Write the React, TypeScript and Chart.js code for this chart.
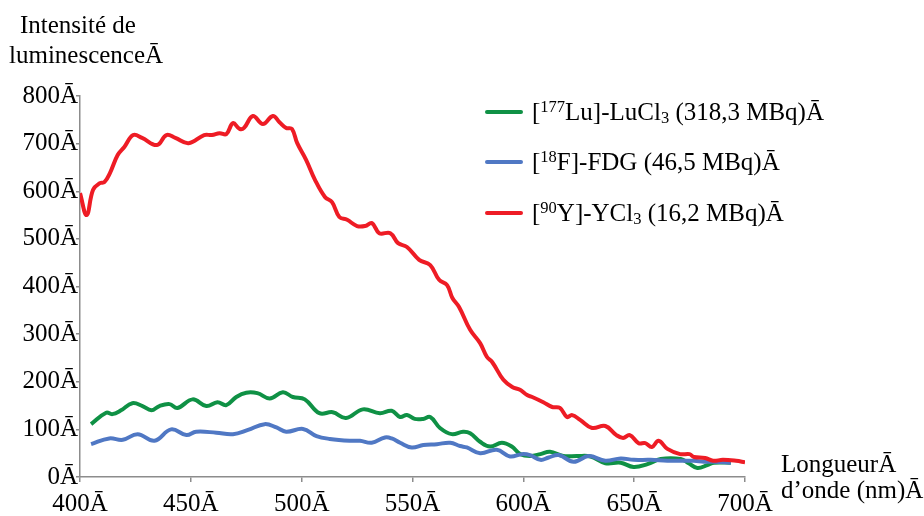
import React, { useEffect, useRef } from 'react';
import { Chart, registerables } from 'chart.js';

Chart.register(...registerables);

// ---- Data ----
const luWavelengths = [405, 411.8, 414.6, 418.5, 423.6, 428.2, 432.2, 435.8, 440.4, 444, 450.8, 457, 462, 466, 470.5, 475, 480, 485.6, 491.5, 496, 501.4, 508, 514, 520, 527.6, 535.3, 540.6, 544.4, 547.5, 551, 554.8, 558, 562.4, 567.7, 572.8, 576, 580.5, 585, 590.3, 594.8, 598.6, 603, 607.7, 612, 618, 624.4, 630.3, 637, 643.9, 649.7, 656, 662, 671, 674.6, 678.5, 683, 686, 693.6];
const luIntensity = [111, 135, 132, 140, 155, 149, 140, 149, 153, 145, 163, 149, 157, 151, 168, 177, 176, 165, 178, 168, 163, 134, 136, 124, 142, 134, 139, 126, 130, 122, 122, 126, 103, 90, 95, 92, 74, 64, 72, 64, 48, 44, 48, 53, 44, 44, 43, 29, 30, 21, 27, 38, 38, 29, 19, 25, 30, 30];

const fdgWavelengths = [405, 413.2, 419.3, 426, 433.6, 441.1, 448, 452.4, 461.5, 469, 475.8, 483.3, 488.6, 493, 500.6, 506.7, 512.7, 521.7, 526.3, 531.6, 537.6, 540.6, 544.4, 549.6, 554.9, 561, 567, 571.5, 574.5, 580.5, 588, 594, 599.4, 603, 607.7, 611.4, 616, 622.7, 629.5, 637, 643.9, 649.8, 657.4, 665, 671, 677, 681.5, 686, 693.6];
const fdgIntensity = [69, 81, 78, 90, 76, 100, 88, 95, 93, 90, 99, 111, 104, 95, 101, 86, 80, 76, 76, 72, 83, 81, 72, 62, 67, 69, 72, 65, 62, 50, 57, 43, 48, 46, 36, 41, 46, 32, 44, 34, 39, 36, 36, 34, 34, 34, 32, 32, 30];

const yWavelengths = [400, 403, 405.9, 409, 411, 413.5, 417, 420, 424, 428, 434.7, 439, 443, 449, 456, 459.5, 463, 466, 469, 472, 474, 478, 482.5, 487, 490, 493, 495.6, 498, 502, 506, 510.5, 513.7, 517, 520.5, 525, 528.6, 531.7, 535, 540, 543.5, 547.5, 553, 558, 562, 565.6, 568, 571, 576, 580.5, 583.6, 586, 591, 595, 598.5, 601.7, 604, 609, 613, 616.5, 619.7, 622, 625.6, 631, 637, 642, 645, 648, 652, 655, 658, 661, 665, 670.7, 675, 677, 682, 685.6, 690, 696, 700];
const yIntensity = [596, 550, 603, 617, 619, 638, 676, 693, 718, 712, 697, 718, 712, 701, 718, 718, 722, 720, 743, 731, 733, 758, 741, 758, 745, 733, 731, 701, 666, 624, 588, 577, 546, 540, 527, 527, 533, 512, 512, 491, 483, 456, 445, 414, 403, 376, 357, 309, 281, 252, 241, 204, 189, 183, 172, 168, 157, 147, 145, 126, 130, 120, 103, 107, 88, 82, 88, 71, 71, 63, 76, 59, 48, 48, 42, 40, 34, 36, 34, 31];

const xTickValues = [400, 450, 500, 550, 600, 650, 700];
const xTickLabels = ['400Ā', '450Ā', '500Ā', '550Ā', '600Ā', '650Ā', '700Ā'];
const yTickValues = [0, 100, 200, 300, 400, 500, 600, 700, 800];
const yTickLabels = ['0Ā', '100Ā', '200Ā', '300Ā', '400Ā', '500Ā', '600Ā', '700Ā', '800Ā'];

const yTitleLines = ['Intensité de', 'luminescenceĀ'];
const xTitleLines = ['LongueurĀ', 'd’onde (nm)Ā'];

// legend text parts: [text, kind] kind 0 normal, 1 superscript, -1 subscript
const legendLu: [string, number][] = [['[', 0], ['177', 1], ['Lu]-LuCl', 0], ['3', -1], [' (318,3 MBq)Ā', 0]];
const legendFdg: [string, number][] = [['[', 0], ['18', 1], ['F]-FDG (46,5 MBq)Ā', 0]];
const legendY: [string, number][] = [['[', 0], ['90', 1], ['Y]-YCl', 0], ['3', -1], [' (16,2 MBq)Ā', 0]];

const GREEN = '#0f9145';
const BLUE = '#5078c4';
const RED = '#ee1c25';
const AXIS = '#8c8c8c';
const FONT = '"Liberation Serif", "Times New Roman", serif';
const FS = 25;

const toPoints = (xs: number[], ys: number[]) => xs.map((x, i) => ({ x, y: ys[i] }));

const textPlugin = {
  id: 'textOverlay',
  afterDraw(chart: any) {
    const ctx = chart.ctx as CanvasRenderingContext2D;
    ctx.save();
    ctx.fillStyle = '#000';
    ctx.textAlign = 'left';
    ctx.textBaseline = 'alphabetic';
    ctx.font = `${FS}px ${FONT}`;
    // axis titles
    ctx.fillText(yTitleLines[0], 20, 33);
    ctx.fillText(yTitleLines[1], 9, 63);
    ctx.fillText(xTitleLines[0], 781, 472);
    ctx.fillText(xTitleLines[1], 781, 498);
    // legend
    const items = [
      { color: GREEN, parts: legendLu, cy: 112 },
      { color: BLUE, parts: legendFdg, cy: 162 },
      { color: RED, parts: legendY, cy: 213 },
    ];
    items.forEach((it) => {
      ctx.strokeStyle = it.color;
      ctx.lineWidth = 4;
      ctx.lineCap = 'round';
      ctx.beginPath();
      ctx.moveTo(487, it.cy);
      ctx.lineTo(521, it.cy);
      ctx.stroke();
      let x = 532;
      const base = it.cy + 8;
      it.parts.forEach(([t, k]) => {
        ctx.font = k === 0 ? `${FS}px ${FONT}` : `16.5px ${FONT}`;
        const dy = k === 1 ? -8.5 : k === -1 ? 3 : 0;
        ctx.fillText(t, x, base + dy);
        x += ctx.measureText(t).width;
      });
    });
    ctx.restore();
  },
};

export default function App() {
  const ref = useRef<HTMLCanvasElement | null>(null);
  useEffect(() => {
    if (!ref.current) return;
    const chart = new Chart(ref.current, {
      type: 'line',
      data: {
        datasets: [
          { label: 'Lu', data: toPoints(luWavelengths, luIntensity), borderColor: GREEN, borderWidth: 4, pointRadius: 0, tension: 0.4, order: 2 },
          { label: 'FDG', data: toPoints(fdgWavelengths, fdgIntensity), borderColor: BLUE, borderWidth: 4, pointRadius: 0, tension: 0.4, order: 1 },
          { label: 'Y', data: toPoints(yWavelengths, yIntensity), borderColor: RED, borderWidth: 4, pointRadius: 0, tension: 0.4, order: 0 },
        ],
      },
      options: {
        responsive: false,
        animation: false,
        events: [],
        layout: { padding: { top: 96, right: 179, left: 0, bottom: 0 } },
        plugins: { legend: { display: false }, tooltip: { enabled: false } },
        scales: {
          x: {
            type: 'linear',
            min: 400,
            max: 700,
            afterFit: (s: any) => { s.height = 39; },
            afterBuildTicks: (s: any) => { s.ticks = xTickValues.map((v) => ({ value: v })); },
            ticks: {
              autoSkip: false,
              maxRotation: 0,
              padding: 7,
              color: '#000',
              font: { family: FONT, size: FS },
              callback: (_v: any, i: number) => xTickLabels[i],
            },
            grid: { drawOnChartArea: false, drawTicks: true, tickLength: 5, color: AXIS, lineWidth: 1.5 },
            border: { display: true, color: AXIS, width: 1.5 },
          },
          y: {
            type: 'linear',
            min: 0,
            max: 800,
            afterFit: (s: any) => { s.width = 80; },
            afterBuildTicks: (s: any) => { s.ticks = yTickValues.map((v) => ({ value: v })); },
            ticks: {
              autoSkip: false,
              padding: -2,
              color: '#000',
              font: { family: FONT, size: FS },
              callback: (_v: any, i: number) => yTickLabels[i],
            },
            grid: { drawOnChartArea: false, drawTicks: true, tickLength: 4, color: AXIS, lineWidth: 1.5 },
            border: { display: true, color: AXIS, width: 1.5 },
          },
        },
      },
      plugins: [textPlugin],
    } as any);
    return () => chart.destroy();
  }, []);
  return (
    <div style={{ position: 'absolute', left: 0, top: 0, width: 924, height: 516, background: '#fff' }}>
      <canvas ref={ref} width={924} height={516} style={{ width: 924, height: 516, display: 'block' }} />
    </div>
  );
}
